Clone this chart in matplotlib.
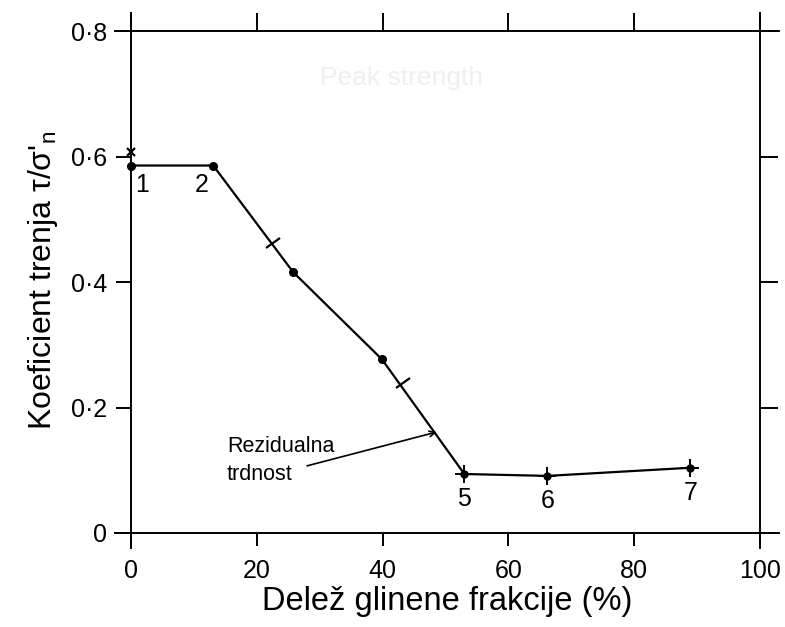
import matplotlib.pyplot as plt
from matplotlib.markers import MarkerStyle
from matplotlib.transforms import Affine2D

# delež glinene frakcije (%) in koeficient trenja za vzorce
glina = [0.0, 13.1, 25.8, 39.9, 53.0, 66.2, 88.9]
trenje = [0.586, 0.586, 0.416, 0.277, 0.094, 0.091, 0.104]

# oznake vzorcev (indeks točke, besedilo)
oznake_idx = [0, 1, 4, 5, 6]
oznake_txt = ["1", "2", "5", "6", "7"]

# dodatne meritve (x in poševne črtice)
x_meritve_x = [0.0]
x_meritve_y = [0.607]
crtice_x = [22.6, 43.3]
crtice_y = [0.462, 0.239]

# puščica za rezidualno trdnost (rep, konica)
pusc_rep = (28.0, 0.107)
pusc_konica = (48.6, 0.161)

xticks = [0, 20, 40, 60, 80, 100]
yticks = [0.0, 0.2, 0.4, 0.6, 0.8]
ytick_lbl = ["0", "0·2", "0·4", "0·6", "0·8"]

font = "Liberation Sans"

fig = plt.figure(figsize=(7.85, 6.27), dpi=100)
ax = fig.add_axes([0.1465, 0.126, 0.846, 0.853])

ax.set_xlim(-2.5, 103.0)
ax.set_ylim(-0.024, 0.829)

# okvir: osi potekajo skozi 0 in 100 oz. 0 in 0.8
ax.spines["left"].set_position(("data", 0))
ax.spines["right"].set_position(("data", 100))
ax.spines["bottom"].set_position(("data", 0))
ax.spines["top"].set_position(("data", 0.8))
for s in ax.spines.values():
    s.set_linewidth(1.4)

ax.plot(glina, trenje, color="black", lw=1.6, zorder=3)
ax.plot(glina[:4], trenje[:4], "o", color="black", ms=5.5, zorder=4)
ax.plot(glina[4:], trenje[4:], "o", color="black", ms=5, zorder=4)
ax.plot(glina[4:], trenje[4:], "+", color="black", ms=13, mew=1.4, zorder=4)
ax.plot(x_meritve_x, x_meritve_y, "x", color="black", ms=6, mew=1.6, zorder=4)
crtica = MarkerStyle("_", transform=Affine2D().rotate_deg(35))
ax.plot(crtice_x, crtice_y, marker=crtica, ls="none", color="black", ms=12, mew=1.6, zorder=4)

odmik = [(8, -14), (-8, -14), (0, -18), (0, -18), (0, -18)]
for i, t, o in zip(oznake_idx, oznake_txt, odmik):
    ax.annotate(t, (glina[i], trenje[i]), xytext=o, textcoords="offset points",
                ha="center", va="center", fontsize=18, family=font)

ax.text(15.3, 0.116, "Rezidualna\ntrdnost", fontsize=15.5, family=font,
        ha="left", va="center", linespacing=1.45)
ax.annotate("", xy=pusc_konica, xytext=pusc_rep,
            arrowprops=dict(arrowstyle="->", color="black", lw=1.2,
                            shrinkA=0, shrinkB=0))

ax.text(43, 0.725, "Peak strength", color="#efefef", fontsize=19,
        family=font, ha="center", va="center")

ax.set_xticks(xticks)
ax.set_xticklabels([str(v) for v in xticks], fontsize=18, family=font)
ax.set_yticks(yticks)
ax.set_yticklabels(ytick_lbl, fontsize=18, family=font)

ax.tick_params(axis="x", which="both", direction="out", length=9, width=1.4, pad=10,
               top=True, bottom=True)
ax.tick_params(axis="y", which="both", direction="out", length=11, width=1.4, pad=6,
               left=True, right=True)
for t in ax.xaxis.get_major_ticks():
    t.tick2line.set_markersize(13)
for t in ax.yaxis.get_major_ticks():
    t.tick2line.set_markersize(13)

ax.set_xlabel("Delež glinene frakcije (%)", fontsize=23.5, family=font, labelpad=2)
ax.set_ylabel("Koeficient trenja τ/σ'$_{\\mathregular{n}}$", fontsize=23,
              family=font, labelpad=8)

fig.savefig("out.png", dpi=100)
